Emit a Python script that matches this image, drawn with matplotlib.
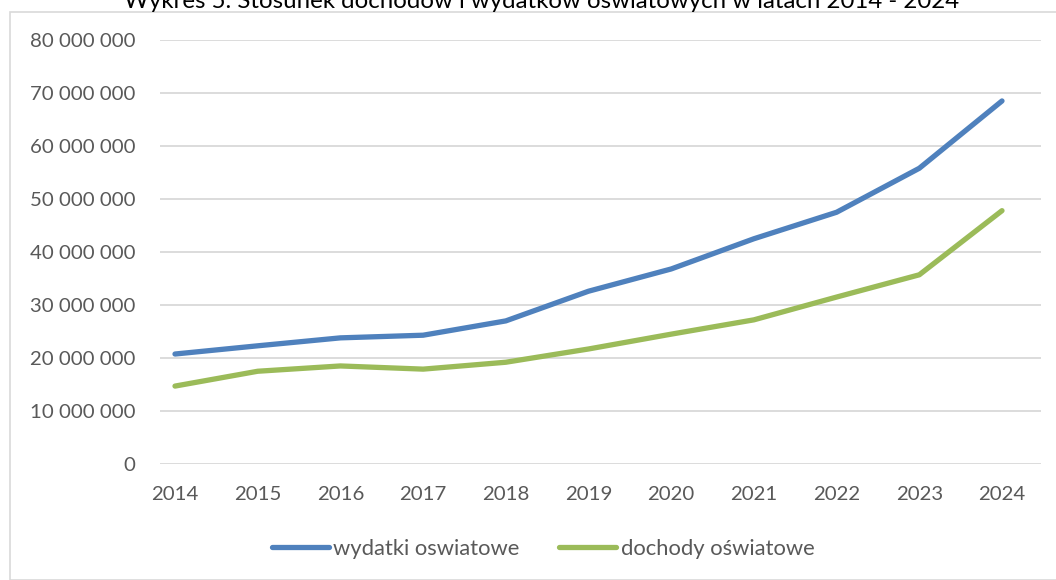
import matplotlib.pyplot as plt
from matplotlib.patches import Rectangle
from matplotlib.ticker import FuncFormatter

plt.rcParams['font.family'] = ['Lato', 'DejaVu Sans']

# Data
years = [2014, 2015, 2016, 2017, 2018, 2019, 2020, 2021, 2022, 2023, 2024]
wydatki = [20.75e6, 22.3e6, 23.8e6, 24.3e6, 27.0e6, 32.6e6, 36.8e6, 42.5e6, 47.5e6, 55.8e6, 68.5e6]
dochody = [14.7e6, 17.5e6, 18.5e6, 17.9e6, 19.2e6, 21.7e6, 24.5e6, 27.2e6, 31.5e6, 35.7e6, 47.8e6]
y_ticks = [0, 10e6, 20e6, 30e6, 40e6, 50e6, 60e6, 70e6, 80e6]

fig = plt.figure(figsize=(10.56, 5.8), dpi=100)
ax = fig.add_axes([160 / 1056, 1 - 464 / 580, 881 / 1056, 424 / 580])

# Chart frame
fig.patches.append(Rectangle((10 / 1056, 0), 1.1, 1 - 12 / 580, transform=fig.transFigure,
                             fill=False, edgecolor='#D9D9D9', linewidth=1.2))

ax.plot(years, wydatki, color='#4F81BD', linewidth=3.8, solid_capstyle='round',
        label='wydatki oswiatowe')
ax.plot(years, dochody, color='#9BBB59', linewidth=3.8, solid_capstyle='round',
        label='dochody oświatowe')

ax.set_ylim(0, 80e6)
ax.set_xlim(2014 - 15 / 82.7, 2024 + 39 / 82.7)
ax.set_yticks(y_ticks)
ax.set_xticks(years)
ax.yaxis.set_major_formatter(FuncFormatter(lambda v, p: f"{int(v):,}".replace(',', ' ')))
ax.grid(axis='y', color='#D9D9D9', linewidth=1.3)
ax.set_axisbelow(True)
for s in ax.spines.values():
    s.set_visible(False)
ax.tick_params(axis='both', length=0, labelsize=14.7, labelcolor='#595959')
ax.tick_params(axis='y', pad=17.5)
ax.tick_params(axis='x', pad=16)

ax.legend(loc='center', bbox_to_anchor=(0.5145, 1 - 549 / 580), bbox_transform=fig.transFigure,
          ncol=2, frameon=False, fontsize=15.8, labelcolor='#595959', handlelength=2.6,
          handletextpad=0.2, columnspacing=1.8)

fig.text(0.513, 0.997, "Wykres 5. Stosunek dochodów i wydatków oświatowych w latach 2014 - 2024",
         ha='center', va='center', fontsize=17.3, color='black')

fig.savefig("out.png", dpi=100)
